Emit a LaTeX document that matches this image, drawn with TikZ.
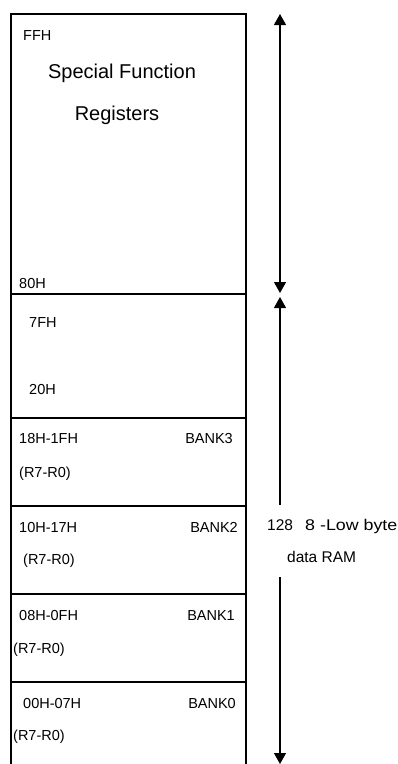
\documentclass[tikz,border=0pt]{standalone}
\usepackage{fontspec}
\setmainfont{Liberation Sans}
\usetikzlibrary{arrows.meta}
\begin{document}
\begin{tikzpicture}[x=1pt,y=-1pt,
  wall/.style={line width=1.4pt, line cap=rect},
  dim/.style={line width=1.3pt},
  mytip/.tip={Triangle[width=12pt,length=11pt]},
  lbl/.style={anchor=base west, inner sep=0pt, font=\fontsize{14.5}{16}\selectfont},
  lblr/.style={anchor=base east, inner sep=0pt, font=\fontsize{14.5}{16}\selectfont},
  side/.style={anchor=base west, inner sep=0pt, font=\fontsize{15.5}{17}\selectfont},
  big/.style={anchor=base, inner sep=0pt, font=\fontsize{20}{24}\selectfont}]
\useasboundingbox (0,0) rectangle (397,764);
% memory block outline
\draw[wall] (11,764) -- (11,14) -- (246,14) -- (246,764);
\foreach \yy in {294,418,506,594,682} \draw[wall] (11,\yy) -- (246,\yy);
% labels
\node[lbl] (ffh) at (23,40) {FFH};
\node[big] (sf1) at (122,78) {Special Function};
\node[big] (sf2) at (117,120) {Registers};
\node[lbl] (h80) at (19,288) {80H};
\node[lbl] (h7f) at (29,327) {7FH};
\node[lbl] (h20) at (29,394) {20H};
\node[lbl] (r3) at (19,443) {18H-1FH};
\node[lblr] (b3) at (233,443) {BANK3};
\node[lbl] (q3) at (19,477) {(R7-R0)};
\node[lbl] (r2) at (19,532) {10H-17H};
\node[lblr] (b2) at (238,532) {BANK2};
\node[lbl] (q2) at (23,564) {(R7-R0)};
\node[lbl] (r1) at (19,620) {08H-0FH};
\node[lblr] (b1) at (235,620) {BANK1};
\node[lbl] (q1) at (13,653) {(R7-R0)};
\node[lbl] (r0) at (23,708) {00H-07H};
\node[lblr] (b0) at (236,708) {BANK0};
\node[lbl] (q0) at (13,740) {(R7-R0)};
\node[side] (n128) at (267,530) {128};
\node[side, xscale=1.15] (low) at (305,530) {8 -Low byte};
\node[side] (ram) at (287,562) {data RAM};
% dimension arrows
\coordinate (u1) at (280,14);
\coordinate (u2) at (280,293);
\coordinate (l1) at (280,297);
\coordinate (l2) at (280,505);
\coordinate (l3) at (280,577);
\coordinate (l4) at (280,764);
\draw[dim, mytip-mytip] (u1) -- (u2);
\draw[dim, mytip-] (l1) -- (l2);
\draw[dim, -mytip] (l3) -- (l4);
\end{tikzpicture}
\end{document}
